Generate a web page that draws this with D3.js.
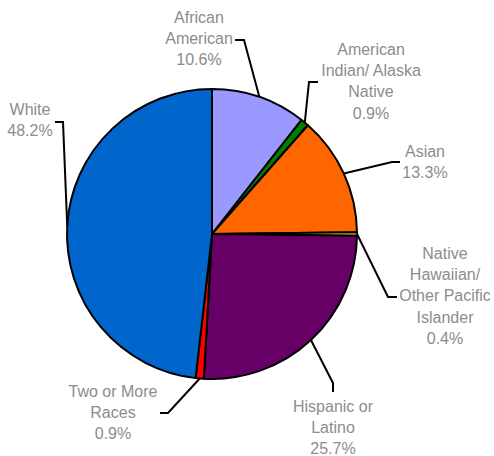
<!DOCTYPE html>
<html><head><meta charset="utf-8">
<script src="https://cdn.jsdelivr.net/npm/d3@7"></script>
<style>html,body{margin:0;padding:0;background:#fff;}svg{display:block;}</style>
</head><body>
<svg id="chart" width="494" height="456"></svg>
<script>
const categories = ["African American","American Indian/ Alaska Native","Asian","Native Hawaiian/ Other Pacific Islander","Hispanic or Latino","Two or More Races","White"];
const values = [10.6, 0.9, 13.3, 0.4, 25.7, 0.9, 48.2];
const labelLines = [
  ["African","American","10.6%"],
  ["American","Indian/ Alaska","Native","0.9%"],
  ["Asian","13.3%"],
  ["Native","Hawaiian/","Other Pacific","Islander","0.4%"],
  ["Hispanic or","Latino","25.7%"],
  ["Two or More","Races","0.9%"],
  ["White","48.2%"]
];
const colors = ["#9999FF","#008000","#FF6600","#FFFF00","#660066","#FF0000","#0066CC"];
// layout for labels: elbow point, end point, text center x, first baseline
const labelLayout = [
  {elbow:[244,40], end:[235,40], tx:199, ty:23},
  {elbow:[309,82], end:[318,82], tx:371, ty:55},
  {elbow:[392,162], end:[400,162], tx:425, ty:157},
  {elbow:[388,297], end:[397,297], tx:445, ty:259},
  {elbow:[333,383], end:[333,392], tx:333, ty:412},
  {elbow:[168,413], end:[160,413], tx:113, ty:397},
  {elbow:[63,122], end:[55,122], tx:30, ty:115}
];
const cx = 212, cy = 234, R = 145, lineH = 21.2;
const svg = d3.select("#chart");
const g = svg.append("g").attr("transform", `translate(${cx},${cy})`);
const pie = d3.pie().sort(null).value(d => d)(values);
const arc = d3.arc().innerRadius(0).outerRadius(R);
const color = d3.scaleOrdinal().domain(categories).range(colors);
g.selectAll("path.slice").data(pie).join("path")
  .attr("class","slice")
  .attr("d", arc)
  .attr("fill", (d,i) => color(categories[i]))
  .attr("stroke","#000").attr("stroke-width",2).attr("stroke-linejoin","round");
// leaders
pie.forEach((d,i) => {
  const a = (d.startAngle + d.endAngle)/2;
  const p0 = [cx + R*Math.sin(a), cy - R*Math.cos(a)];
  const L = labelLayout[i];
  svg.append("path")
    .attr("d", d3.line()([p0, L.elbow, L.end]))
    .attr("fill","none").attr("stroke","#000").attr("stroke-width",2);
  const t = svg.append("text")
    .attr("text-anchor","middle")
    .attr("font-family","'Liberation Sans', Arial, sans-serif")
    .attr("font-size","16px")
    .attr("fill","#8c8c8c");
  labelLines[i].forEach((ln,j) => {
    t.append("tspan").attr("x", L.tx).attr("y", L.ty + j*lineH).text(ln);
  });
});
</script>
</body></html>
